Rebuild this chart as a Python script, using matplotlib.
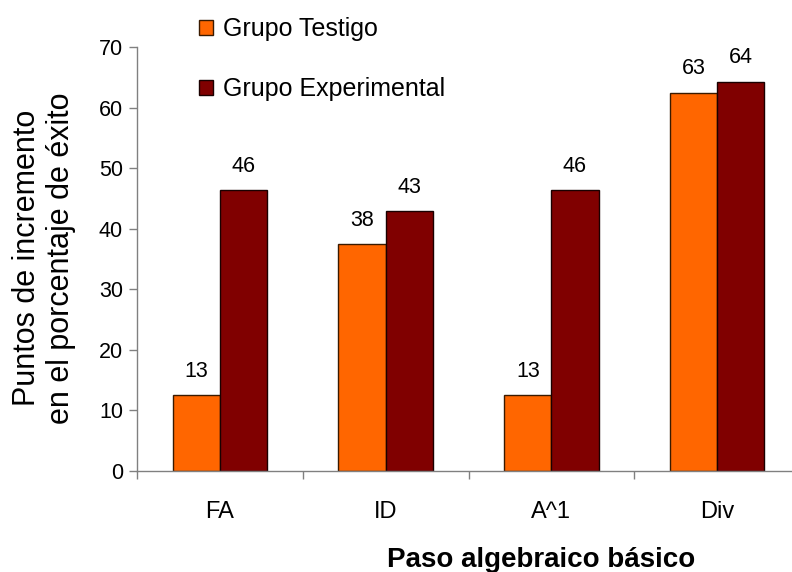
import numpy as np
import matplotlib.pyplot as plt

categories = ["FA", "ID", "A^1", "Div"]
testigo = [12.5, 37.5, 12.5, 62.5]
experimental = [46.4, 42.9, 46.4, 64.3]
series_names = ["Grupo Testigo", "Grupo Experimental"]
colors = ["#FF6600", "#800000"]

plt.rcParams['font.family'] = ['Liberation Sans', 'DejaVu Sans']

W, H = 792, 572
fig = plt.figure(figsize=(W / 100, H / 100), dpi=100)
ax = fig.add_axes([137 / W, (H - 470.7) / H, 663 / W, 423.4 / H])

x = np.arange(len(categories))
w = 0.285
b1 = ax.bar(x - w / 2, testigo, w, color=colors[0], edgecolor="#3a1a00",
            linewidth=1, label=series_names[0])
b2 = ax.bar(x + w / 2, experimental, w, color=colors[1], edgecolor="#1a0000",
            linewidth=1, label=series_names[1])

for bars, vals in [(b1, testigo), (b2, experimental)]:
    for rect, v in zip(bars, vals):
        ax.text(rect.get_x() + rect.get_width() / 2, v + 2.2, str(int(v + 0.5)),
                ha="center", va="bottom", fontsize=15.5)

ax.set_xlim(-0.5, len(categories) - 0.5)
ax.set_ylim(0, 70)
ax.set_yticks(range(0, 71, 10))
ax.tick_params(axis="y", labelsize=15.5, length=6, color="#808080", width=1, pad=4)
ax.set_xticks(x)
ax.set_xticklabels(categories, fontsize=17)
ax.tick_params(axis="x", length=0, pad=22)
ax.set_xticks(np.arange(len(categories) + 1) - 0.5, minor=True)
ax.tick_params(axis="x", which="minor", length=6, color="#808080", width=1)

for s in ["top", "right"]:
    ax.spines[s].set_visible(False)
for s in ["left", "bottom"]:
    ax.spines[s].set_color("#808080")
    ax.spines[s].set_linewidth(1)

fig.text(44 / W, 1 - 258 / H, "Puntos de incremento\nen el porcentaje de éxito",
         rotation=90, ha="center", va="center", fontsize=22, linespacing=1.2)
fig.text(541 / W, 1 - 567 / H, "Paso algebraico básico",
         ha="center", va="baseline", fontsize=20, fontweight="bold")

fig.legend(loc="upper left", bbox_to_anchor=(199 / W, 1 - 17 / H),
           frameon=False, fontsize=18, handlelength=0.56, handleheight=0.56,
           handletextpad=0.4, labelspacing=1.45, borderpad=0, borderaxespad=0)

fig.savefig("out.png", dpi=100)
